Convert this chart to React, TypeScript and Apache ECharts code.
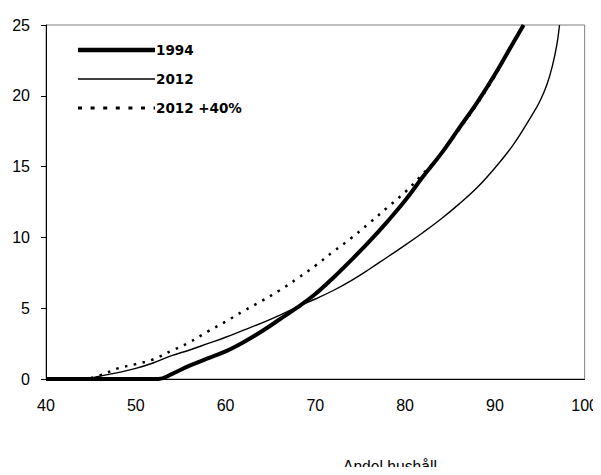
import React, { useEffect, useRef } from "react";
import * as echarts from "echarts";

const seriesNames = ["1994", "2012", "2012 +40%"];

const x1994 = [40, 52.5, 54, 56, 58, 60, 62, 64, 66, 68, 70, 72, 74, 76, 78, 80, 82, 84, 86, 88, 90, 92, 93.2];
const y1994 = [0, 0, 0.35, 0.95, 1.45, 1.95, 2.6, 3.35, 4.2, 5.05, 6.0, 7.15, 8.4, 9.7, 11.1, 12.6, 14.3, 15.9, 17.7, 19.5, 21.5, 23.7, 25];

const x2012 = [40, 44, 46, 48, 50, 52, 54, 56, 58, 60, 62, 64, 66, 68, 70, 72, 74, 76, 78, 80, 82, 84, 86, 88, 90, 92, 94, 95, 95.8, 96.4, 96.9, 97.2];
const y2012 = [0, 0, 0.2, 0.45, 0.75, 1.15, 1.65, 2.05, 2.5, 2.95, 3.45, 3.95, 4.5, 5.1, 5.65, 6.25, 6.95, 7.75, 8.6, 9.45, 10.35, 11.3, 12.35, 13.5, 14.9, 16.5, 18.5, 19.6, 20.8, 22.1, 23.6, 25];

const x2012p = [40, 44, 46, 48, 50, 52, 54, 56, 58, 60, 62, 64, 66, 68, 70, 72, 74, 76, 78, 80, 82, 84, 86, 88, 90, 92, 93.2];
const y2012p = [0, 0, 0.25, 0.75, 1.05, 1.4, 2.0, 2.6, 3.35, 4.05, 4.8, 5.5, 6.25, 7.1, 8.0, 9.0, 9.95, 11.0, 12.1, 13.2, 14.5, 15.9, 17.6, 19.4, 21.4, 23.7, 25];

const xTicks = { min: 40, max: 100, interval: 10 };
const yTicks = { min: 0, max: 25, interval: 5 };
const xTitle = "Andel hushåll";

const zip = (xs: number[], ys: number[]) => xs.map((x, i) => [x, ys[i]]);

export default function App() {
  const ref = useRef<HTMLDivElement>(null);
  useEffect(() => {
    if (!ref.current) return;
    const chart = echarts.init(ref.current, null, { renderer: "svg" });
    const font = "'Liberation Sans', Arial, sans-serif";
    const legendFont = "'DejaVu Sans', 'Liberation Sans', sans-serif";
    const legendRows = [
      { y: 50, width: 4.5, dash: null as number[] | null },
      { y: 79, width: 1.5, dash: null as number[] | null },
      { y: 108, width: 3, dash: [4, 8.6] },
    ];
    const legendGraphics: any[] = [];
    legendRows.forEach((r, i) => {
      legendGraphics.push({
        type: "line",
        shape: { x1: 78, y1: r.y, x2: 155, y2: r.y },
        style: { stroke: "#000", lineWidth: r.width, lineDash: r.dash || undefined },
      });
      legendGraphics.push({
        type: "text",
        x: 156,
        y: r.y,
        style: {
          text: seriesNames[i],
          fontFamily: legendFont,
          fontWeight: "bold",
          fontSize: 13.5,
          fill: "#000",
          textAlign: "left",
          textVerticalAlign: "middle",
        },
      });
    });
    chart.setOption({
      animation: false,
      backgroundColor: "#ffffff",
      grid: {
        left: 46,
        right: 15,
        top: 25,
        bottom: 96,
        show: true,
        borderColor: "#808080",
        borderWidth: 1,
      },
      xAxis: {
        type: "value",
        min: xTicks.min,
        max: xTicks.max,
        interval: xTicks.interval,
        splitLine: { show: false },
        axisTick: { show: false },
        axisLine: { show: true, lineStyle: { color: "#000", width: 1 } },
        axisLabel: { fontFamily: font, fontSize: 16, color: "#000", margin: 18 },
      },
      yAxis: {
        type: "value",
        min: yTicks.min,
        max: yTicks.max,
        interval: yTicks.interval,
        splitLine: { show: false },
        axisTick: { show: true, length: 5, lineStyle: { color: "#000" } },
        axisLabel: { fontFamily: font, fontSize: 16, color: "#000", margin: 16 },
        axisLine: { show: true, lineStyle: { color: "#000", width: 1 } },
      },
      graphic: [
        ...legendGraphics,
        {
          type: "text",
          x: 343,
          y: 474.5,
          scaleX: 0.92,
          style: {
            text: xTitle,
            fontFamily: font,
            fontSize: 17,
            fill: "#000",
            textAlign: "left",
            textVerticalAlign: "bottom",
          },
        },
      ],
      series: [
        {
          name: seriesNames[0],
          type: "line",
          data: zip(x1994, y1994),
          showSymbol: false,
          symbol: "none",
          smooth: 0.4,
          lineStyle: { color: "#000", width: 4 },
          z: 3,
        },
        {
          name: seriesNames[1],
          type: "line",
          data: zip(x2012, y2012),
          showSymbol: false,
          symbol: "none",
          smooth: 0.4,
          lineStyle: { color: "#000", width: 1.4 },
          z: 2,
        },
        {
          name: seriesNames[2],
          type: "line",
          data: zip(x2012p, y2012p),
          showSymbol: false,
          symbol: "none",
          smooth: 0.4,
          lineStyle: { color: "#000", width: 2.5, type: [2.5, 6.5] },
          z: 1,
        },
      ],
    });
    return () => chart.dispose();
  }, []);
  return <div ref={ref} style={{ width: 601, height: 475, margin: -8 }} />;
}
